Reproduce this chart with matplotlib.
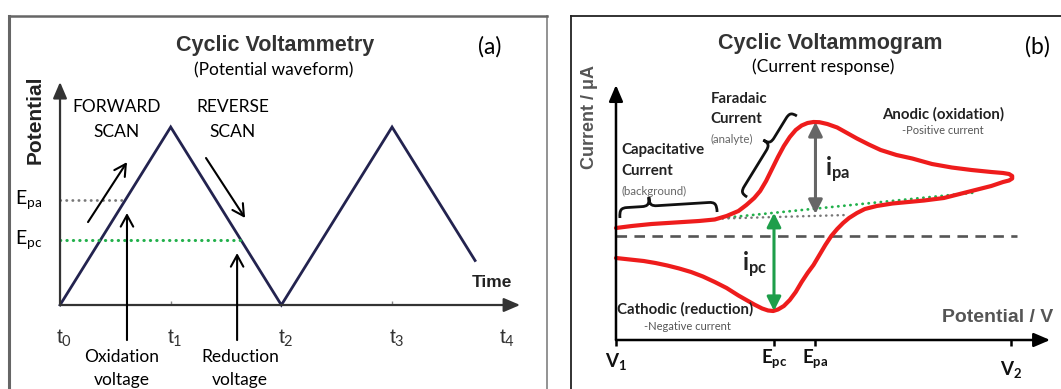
import matplotlib
matplotlib.use("Agg")
import matplotlib.pyplot as plt
import numpy as np
from matplotlib.path import Path
from matplotlib.patches import PathPatch
from matplotlib.transforms import IdentityTransform

plt.rcParams['font.family'] = ['Lato', 'DejaVu Sans']
plt.rcParams['mathtext.fontset'] = 'custom'
plt.rcParams['mathtext.rm'] = 'Lato'
plt.rcParams['mathtext.bf'] = 'Lato:bold'
plt.rcParams['mathtext.it'] = 'Lato:italic'

ARIAL = ['Liberation Sans', 'DejaVu Sans']

# ---------------- panel (a): triangular potential waveform ----------------
scan_times = [0, 1, 2, 3, 3.75]
scan_potential = [0, 1, 0, 1, 0.25]
time_ticks = [0, 1, 2, 3, 4]
time_labels = ['t$_0$', 't$_1$', 't$_2$', 't$_3$', 't$_4$']
E_pa_level = 0.59
E_pc_level = 0.365

# ---------------- panel (b): cyclic voltammogram ----------------
# anodic (forward) sweep, potential normalised V1=0 .. V2=1, current in uA
fwd_E = [0.000, 0.04, 0.09, 0.15, 0.21, 0.25, 0.28, 0.31, 0.33, 0.35, 0.365,
         0.38, 0.395, 0.41, 0.425, 0.44, 0.455, 0.47, 0.485, 0.50, 0.515,
         0.535, 0.56, 0.585, 0.61, 0.64, 0.67, 0.71, 0.75, 0.80, 0.85, 0.90,
         0.95, 0.98, 0.995, 1.003]
fwd_I = [0.8, 1.0, 1.2, 1.35, 1.5, 1.65, 2.0, 2.5, 3.1, 3.8, 4.5,
         5.5, 6.7, 7.9, 9.0, 9.9, 10.6, 11.05, 11.3, 11.4, 11.38,
         11.2, 10.85, 10.3, 9.75, 9.15, 8.6, 8.1, 7.75, 7.2, 6.85, 6.6,
         6.4, 6.3, 6.2, 6.0]
# cathodic (return) sweep
rev_E = [1.003, 0.995, 0.98, 0.95, 0.91, 0.87, 0.83, 0.78, 0.74, 0.70, 0.66,
         0.63, 0.61, 0.59, 0.575, 0.56, 0.545, 0.53, 0.515, 0.50, 0.485,
         0.47, 0.455, 0.44, 0.425, 0.41, 0.398, 0.385, 0.37, 0.35, 0.33,
         0.31, 0.28, 0.25, 0.22, 0.19, 0.16, 0.13, 0.10, 0.07, 0.035, 0.0]
rev_I = [5.75, 5.55, 5.4, 5.0, 4.6, 4.2, 3.8, 3.55, 3.4, 3.25, 3.0,
         2.7, 2.3, 1.8, 1.3, 0.7, 0.0, -0.9, -1.9, -2.9, -3.7,
         -4.6, -5.6, -6.4, -7.0, -7.35, -7.5, -7.45, -7.25, -6.85, -6.4,
         -5.95, -5.2, -4.6, -4.05, -3.6, -3.25, -2.95, -2.7, -2.5, -2.35, -2.2]

V1, E_pc, E_pa, V2 = 0.0, 0.40, 0.505, 1.0
potential_ticks = [V1, E_pc, E_pa, V2]
I_pa_peak = 11.4
I_pc_peak = -7.5
pc_baseline_E = [0.27, 0.91]
pc_baseline_I = [1.8, 4.35]
pa_baseline_E = [0.27, 0.585]
pa_baseline_I = [1.75, 2.1]

W, H = 1061, 389
fig = plt.figure(figsize=(W / 100, H / 100), dpi=100)


def brace(ax, p0, p1, rise, tip_rise, tip_frac, radius=7, **kw):
    """Curly brace between two data points, tip on the left of p0->p1."""
    a = np.asarray(ax.transData.transform(p0), float)
    b = np.asarray(ax.transData.transform(p1), float)
    L = np.hypot(*(b - a))
    eu = (b - a) / L
    ev = np.array([-eu[1], eu[0]])
    f = tip_frac * L
    h1, h2, r = rise, rise + tip_rise, radius
    local = [(0, 0), (0, h1 * 0.8), (r * 0.2, h1), (r, h1),
             (f - r, h1),
             (f - r * 0.2, h1), (f, h1 + (h2 - h1) * 0.2), (f, h2),
             (f, h1 + (h2 - h1) * 0.2), (f + r * 0.2, h1), (f + r, h1),
             (L - r, h1),
             (L - r * 0.2, h1), (L, h1 * 0.8), (L, 0)]
    codes = ([Path.MOVETO] + [Path.CURVE4] * 3 + [Path.LINETO] +
             [Path.CURVE4] * 6 + [Path.LINETO] + [Path.CURVE4] * 3)
    pts = [a + u * eu + v * ev for u, v in local]
    ax.add_artist(PathPatch(Path(pts, codes), transform=IdentityTransform(),
                            fill=False, clip_on=False, **kw))


# ======================= panel (a) =======================
axa = fig.add_axes([9 / W, 0, (547 - 9) / W, (389 - 16) / H])
axa.set_xlim(-0.461, 4.40)
axa.set_ylim(-0.472, 1.624)
axa.set_xticks([]); axa.set_yticks([])
axa.spines['bottom'].set_visible(False)
axa.spines['left'].set(color='#666666', linewidth=2.2)
axa.spines['top'].set(color='#666666', linewidth=1.8)
axa.spines['right'].set(color='#8a8a8a', linewidth=1.3)

ax_kw = dict(arrowstyle='-|>,head_length=0.7,head_width=0.3', color='#333333',
             lw=1.6, shrinkA=0, shrinkB=0, mutation_scale=14)
axa.annotate('', xy=(4.157, 0), xytext=(0, 0), arrowprops=ax_kw)
axa.annotate('', xy=(0, 1.253), xytext=(0, 0), arrowprops=ax_kw)
axa.vlines([1, 3], 0, 0.025, color='#888888', lw=1)

axa.plot(scan_times, scan_potential, color='#23234f', lw=2.0,
         solid_joinstyle='miter')

axa.plot([0, E_pa_level], [E_pa_level, E_pa_level], color='#777777', lw=2,
         linestyle=(0, (0.1, 2.1)), dash_capstyle='round')
axa.plot([0, 2 - E_pc_level], [E_pc_level, E_pc_level], color='#22b04b', lw=2.2,
         linestyle=(0, (0.1, 2.0)), dash_capstyle='round')

for t, lab in zip(time_ticks, time_labels):
    axa.text(t + 0.04, -0.185, lab, ha='center', va='center', fontsize=15,
             family=ARIAL, color='#333333')

axa.text(-0.41, E_pa_level, 'E$_{\\mathrm{pa}}$', ha='left', va='center', fontsize=14)
axa.text(-0.41, E_pc_level, 'E$_{\\mathrm{pc}}$', ha='left', va='center', fontsize=14)

axa.text(1.943, 1.461, 'Cyclic Voltammetry', ha='center', va='center',
         fontsize=15.5, fontweight='bold', family=ARIAL, color='#333333')
axa.text(1.934, 1.320, '(Potential waveform)', ha='center', va='center', fontsize=12.5)
axa.text(3.885, 1.449, '(a)', ha='center', va='center', fontsize=16.5)
axa.text(-0.226, 1.039, 'Potential', rotation=90, ha='center', va='center',
         fontsize=15, fontweight='bold', family=ARIAL, color='#222222')
axa.text(3.90, 0.129, 'Time', ha='center', va='center', fontsize=12.5,
         fontweight='bold', family=ARIAL, color='#222222')

for x, top, bot in [(0.515, 'FORWARD', 'SCAN'), (1.563, 'REVERSE', 'SCAN')]:
    axa.text(x, 1.112, top, ha='center', va='center', fontsize=12.5)
    axa.text(x, 0.972, bot, ha='center', va='center', fontsize=12.5)
for x, top in [(0.56, 'Oxidation'), (1.626, 'Reduction')]:
    axa.text(x, -0.292, top, ha='center', va='center', fontsize=12.5)
    axa.text(x, -0.421, 'voltage', ha='center', va='center', fontsize=12.5)

open_kw = dict(arrowstyle='->,head_length=0.55,head_width=0.3', color='black',
               lw=1.5, shrinkA=0, shrinkB=0, mutation_scale=15)
axa.annotate('', xy=(0.605, 0.803), xytext=(0.253, 0.466), arrowprops=open_kw)
axa.annotate('', xy=(1.672, 0.489), xytext=(1.319, 0.826), arrowprops=open_kw)
axa.annotate('', xy=(0.605, 0.517), xytext=(0.605, -0.197), arrowprops=open_kw)
axa.annotate('', xy=(1.60, 0.292), xytext=(1.60, -0.197), arrowprops=open_kw)

# ======================= panel (b) =======================
axb = fig.add_axes([571 / W, 0, (W - 571) / W, (389 - 16) / H])
axb.set_xlim(-0.1139, 1.1266)
axb.set_ylim(-15.3, 22.0)
axb.set_xticks([]); axb.set_yticks([])
axb.spines['bottom'].set_visible(False)
axb.spines['right'].set_visible(False)
axb.spines['left'].set(color='#222222', linewidth=1.3)
axb.spines['top'].set(color='#222222', linewidth=1.3)

I_axis = -10.4
bx_kw = dict(arrowstyle='-|>,head_length=0.7,head_width=0.3', color='black',
             lw=1.8, shrinkA=0, shrinkB=0, mutation_scale=14)
axb.annotate('', xy=(1.099, I_axis), xytext=(0, I_axis), arrowprops=bx_kw)
axb.annotate('', xy=(0, 15.1), xytext=(0, I_axis), arrowprops=bx_kw)
axb.vlines(potential_ticks, I_axis - 0.6, I_axis, color='black', lw=1.8)

axb.plot([0, 1.015], [0, 0], color='#555555', lw=1.9, linestyle=(0, (4, 2.8)))

axb.plot(pc_baseline_E, pc_baseline_I, color='#22b04b', lw=2,
         linestyle=(0, (0.1, 2.1)), dash_capstyle='round')
axb.plot(pa_baseline_E, pa_baseline_I, color='#777777', lw=1.8,
         linestyle=(0, (0.1, 2.2)), dash_capstyle='round')

axb.plot(fwd_E + rev_E, fwd_I + rev_I, color='#ee1c1c', lw=3.0,
         solid_joinstyle='round', solid_capstyle='round')

dbl_kw = dict(arrowstyle='<|-|>,head_length=0.7,head_width=0.35', lw=2.2,
              shrinkA=0, shrinkB=0, mutation_scale=12)
pa_base = np.interp(E_pa, pa_baseline_E, pa_baseline_I)
pc_base = np.interp(E_pc, pc_baseline_E, pc_baseline_I)
axb.annotate('', xy=(E_pa, I_pa_peak), xytext=(E_pa, pa_base + 0.2),
             arrowprops=dict(color='#666666', **dbl_kw))
axb.annotate('', xy=(E_pc, I_pc_peak), xytext=(E_pc, pc_base),
             arrowprops=dict(color='#1e9e4a', **dbl_kw))

brace(axb, (0.010, 1.8), (0.256, 2.4), rise=10, tip_rise=9, tip_frac=0.31,
      radius=8, color='#111111', lw=2.0)
brace(axb, (0.332, 3.9), (0.458, 12.0), rise=8, tip_rise=8, tip_frac=0.6,
      radius=8, color='#111111', lw=2.0)

tick_labels = ['$\\mathbf{V_1}$', '$\\mathbf{E_{pc}}$', '$\\mathbf{E_{pa}}$', '$\\mathbf{V_2}$']
tick_label_I = [-12.5, -12.3, -12.3, -13.3]
for e, lab, yy in zip(potential_ticks, tick_labels, tick_label_I):
    axb.text(e + 0.0, yy, lab, ha='center', va='center', fontsize=13.5, color='#111111')

axb.text(0.542, 19.3, 'Cyclic Voltammogram', ha='center', va='center',
         fontsize=15.5, fontweight='bold', family=ARIAL, color='#333333')
axb.text(0.524, 16.9, '(Current response)', ha='center', va='center', fontsize=12.5)
axb.text(1.066, 18.9, '(b)', ha='center', va='center', fontsize=16.5)
axb.text(-0.066, 11.9, 'Current / μA', rotation=90, ha='center', va='center',
         fontsize=13, fontweight='bold', family=ARIAL, color='#555555')
axb.text(1.106, -8.2, 'Potential / V', ha='right', va='center', fontsize=14,
         fontweight='bold', family=ARIAL, color='#555555')

BOLD = dict(fontsize=10.8, fontweight='bold', color='#222222', va='center')
SMALL = dict(fontsize=8.3, color='#666666', va='center')
axb.text(0.240, 13.7, 'Faradaic', ha='left', **BOLD)
axb.text(0.240, 11.7, 'Current', ha='left', **BOLD)
axb.text(0.240, 9.7, '(analyte)', ha='left', **SMALL)
axb.text(0.013, 8.6, 'Capacitative', ha='left', **BOLD)
axb.text(0.013, 6.5, 'Current', ha='left', **BOLD)
axb.text(0.013, 4.5, '(background)', ha='left', **SMALL)
axb.text(0.828, 12.2, 'Anodic (oxidation)', ha='center', **BOLD)
axb.text(0.828, 10.5, '-Positive current', ha='center', fontsize=8, color='#555555',
         va='center')
axb.text(0.0025, -7.3, 'Cathodic (reduction)', ha='left', **BOLD)
axb.text(0.18, -9.0, '-Negative current', ha='center', fontsize=8, color='#555555',
         va='center')
axb.text(0.562, 6.6, '$\\mathbf{i_{pa}}$', ha='center', va='center', fontsize=17,
         color='#222222')
axb.text(0.352, -2.9, '$\\mathbf{i_{pc}}$', ha='center', va='center', fontsize=17,
         color='#222222')

fig.savefig('out.png', dpi=100)
